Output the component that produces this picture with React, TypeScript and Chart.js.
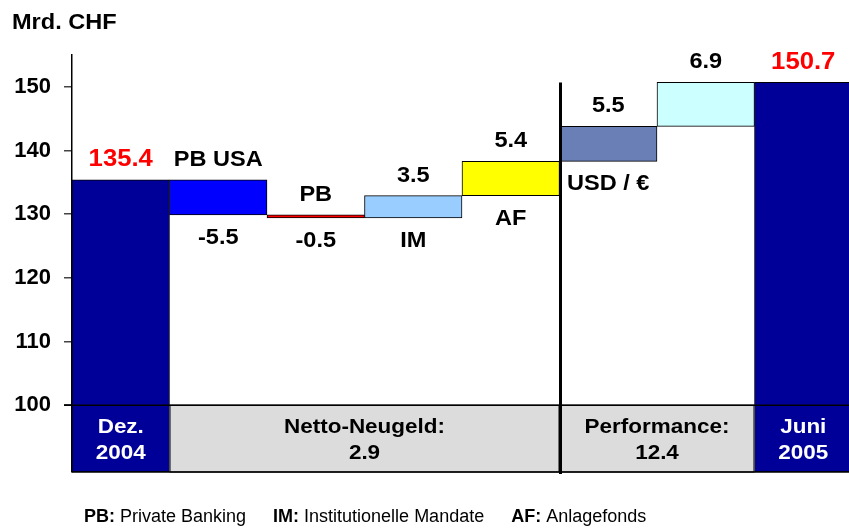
import React, { useEffect, useRef } from "react";
import { Chart, registerables } from "chart.js";

Chart.register(...registerables);

// ---- data ----
const categories = ["Dez. 2004", "PB USA", "PB", "IM", "AF", "USD / €", "Übrige", "Juni 2005"];
const startValue = 135.4;
const deltas = [-5.5, -0.5, 3.5, 5.4, 5.5, 6.9];
const endValue = 150.7;
const barColors = ["#000099", "#0000FF", "#FF0000", "#99CCFF", "#FFFF00", "#6A7FB5", "#CCFFFF", "#000099"];
const topLabels = ["135.4", "PB USA", "PB", "3.5", "5.4", "5.5", "6.9", "150.7"];
const bottomLabels = ["", "-5.5", "-0.5", "IM", "AF", "USD / €", "", ""];
const yTickValues = [100, 110, 120, 130, 140, 150];
const axisMin = 89.5;
const axisMax = 155;
const bandGroups = [
  { from: 0, to: 0, lines: ["Dez.", "2004"], fill: "", color: "#FFFFFF" },
  { from: 1, to: 4, lines: ["Netto-Neugeld:", "2.9"], fill: "#DCDCDC", color: "#000000" },
  { from: 5, to: 6, lines: ["Performance:", "12.4"], fill: "#DCDCDC", color: "#000000" },
  { from: 7, to: 7, lines: ["Juni", "2005"], fill: "", color: "#FFFFFF" },
];
const separatorAfter = 4;
const footerItems = [
  { key: "PB:", text: " Private Banking" },
  { key: "IM:", text: " Institutionelle Mandate" },
  { key: "AF:", text: " Anlagefonds" },
];

const FONT = "'Liberation Sans', Arial, sans-serif";
const SX = 1.07;

function buildBars(): [number, number][] {
  const bars: [number, number][] = [[axisMin, startValue]];
  let level = startValue;
  for (const d of deltas) {
    const next = Math.round((level + d) * 10) / 10;
    bars.push([Math.min(level, next), Math.max(level, next)]);
    level = next;
  }
  bars.push([axisMin, endValue]);
  return bars;
}

function drawText(ctx: CanvasRenderingContext2D, text: string, x: number, y: number) {
  ctx.save();
  ctx.translate(x, y);
  ctx.scale(SX, 1);
  ctx.fillText(text, 0, 0);
  ctx.restore();
}

const overlayPlugin = {
  id: "overlay",
  afterDatasetsDraw(chart: any) {
    const { ctx, chartArea, scales } = chart;
    const x = scales.x;
    const y = scales.y;
    const colW = (chartArea.right - chartArea.left) / categories.length;
    const y100 = y.getPixelForValue(100);
    const yBot = y.getPixelForValue(axisMin);
    const bars = buildBars();
    ctx.save();

    // band boxes
    bandGroups.forEach((g) => {
      const l = x.getPixelForValue(g.from) - colW / 2;
      const r = x.getPixelForValue(g.to) + colW / 2;
      if (g.fill) {
        ctx.fillStyle = g.fill;
        ctx.fillRect(l, y100, r - l, yBot - y100);
        ctx.strokeStyle = "#000";
        ctx.lineWidth = 1;
        ctx.strokeRect(l + 0.5, y100, r - l - 1, yBot - y100);
      }
      ctx.fillStyle = g.color;
      ctx.font = `bold 21px ${FONT}`;
      ctx.textAlign = "center";
      ctx.textBaseline = "middle";
      const cx = (l + r) / 2;
      drawText(ctx, g.lines[0], cx, y100 + 22);
      drawText(ctx, g.lines[1], cx, y100 + 48);
    });

    // line at 100 and bottom line
    ctx.strokeStyle = "#000";
    ctx.lineWidth = 1.5;
    ctx.beginPath();
    ctx.moveTo(chartArea.left - 8, y100);
    ctx.lineTo(chartArea.right, y100);
    ctx.stroke();
    ctx.beginPath();
    ctx.moveTo(chartArea.left, yBot);
    ctx.lineTo(chartArea.right, yBot);
    ctx.stroke();

    // separator
    const sx = x.getPixelForValue(separatorAfter) + colW / 2 + 1;
    ctx.lineWidth = 3;
    ctx.beginPath();
    ctx.moveTo(sx, y.getPixelForValue(endValue));
    ctx.lineTo(sx, yBot + 2);
    ctx.stroke();

    // bar labels
    ctx.textAlign = "center";
    ctx.textBaseline = "middle";
    bars.forEach((b, i) => {
      const cx = x.getPixelForValue(i);
      const top = y.getPixelForValue(b[1]);
      const bot = y.getPixelForValue(b[0]);
      const red = i === 0 || i === categories.length - 1;
      if (topLabels[i]) {
        ctx.fillStyle = red ? "#FF0000" : "#000000";
        ctx.font = `bold ${red ? 24 : 22}px ${FONT}`;
        drawText(ctx, topLabels[i], cx, top - 20);
      }
      if (bottomLabels[i]) {
        ctx.fillStyle = "#000000";
        ctx.font = `bold 22px ${FONT}`;
        drawText(ctx, bottomLabels[i], cx, bot + 23);
      }
    });

    // title
    ctx.textAlign = "left";
    ctx.fillStyle = "#000";
    ctx.font = `bold 22px ${FONT}`;
    drawText(ctx, "Mrd. CHF", 12, 23);

    // footer
    const fy = 517;
    let fx = 84;
    footerItems.forEach((f) => {
      ctx.font = `bold 18px ${FONT}`;
      ctx.fillText(f.key, fx, fy);
      fx += ctx.measureText(f.key).width;
      ctx.font = `18px ${FONT}`;
      ctx.fillText(f.text, fx, fy);
      fx += ctx.measureText(f.text).width + 27;
    });

    ctx.restore();
  },
};

export default function App() {
  const ref = useRef<HTMLCanvasElement | null>(null);
  useEffect(() => {
    if (!ref.current) return;
    const chart = new Chart(ref.current, {
      type: "bar",
      data: {
        labels: categories,
        datasets: [
          {
            data: buildBars() as any,
            backgroundColor: barColors,
            borderColor: "#000000",
            borderWidth: 1,
            borderSkipped: false,
            barPercentage: 1,
            categoryPercentage: 1,
          },
        ],
      },
      options: {
        responsive: false,
        animation: false,
        events: [],
        layout: { padding: { top: 55, bottom: 56, left: 0, right: 0 } },
        plugins: { legend: { display: false }, tooltip: { enabled: false } },
        scales: {
          x: { display: false },
          y: {
            min: axisMin,
            max: axisMax,
            afterBuildTicks: (scale: any) => {
              scale.ticks = yTickValues.map((v) => ({ value: v }));
            },
            afterFit: (scale: any) => {
              scale.width = 72;
            },
            border: { display: true, color: "#000", width: 1.5 },
            grid: { drawOnChartArea: false, drawTicks: true, tickLength: 8, tickColor: "#444", lineWidth: 1.5 },
            ticks: {
              color: "#000",
              padding: 13,
              font: { family: FONT, size: 22, weight: "bold" },
            },
          },
        },
      },
      plugins: [overlayPlugin],
    });
    return () => chart.destroy();
  }, []);
  return (
    <div style={{ position: "fixed", left: 0, top: 0, width: 849, height: 528, overflow: "hidden", background: "#fff" }}>
      <canvas ref={ref} width={852} height={528} style={{ display: "block", width: 852, height: 528 }} />
    </div>
  );
}
